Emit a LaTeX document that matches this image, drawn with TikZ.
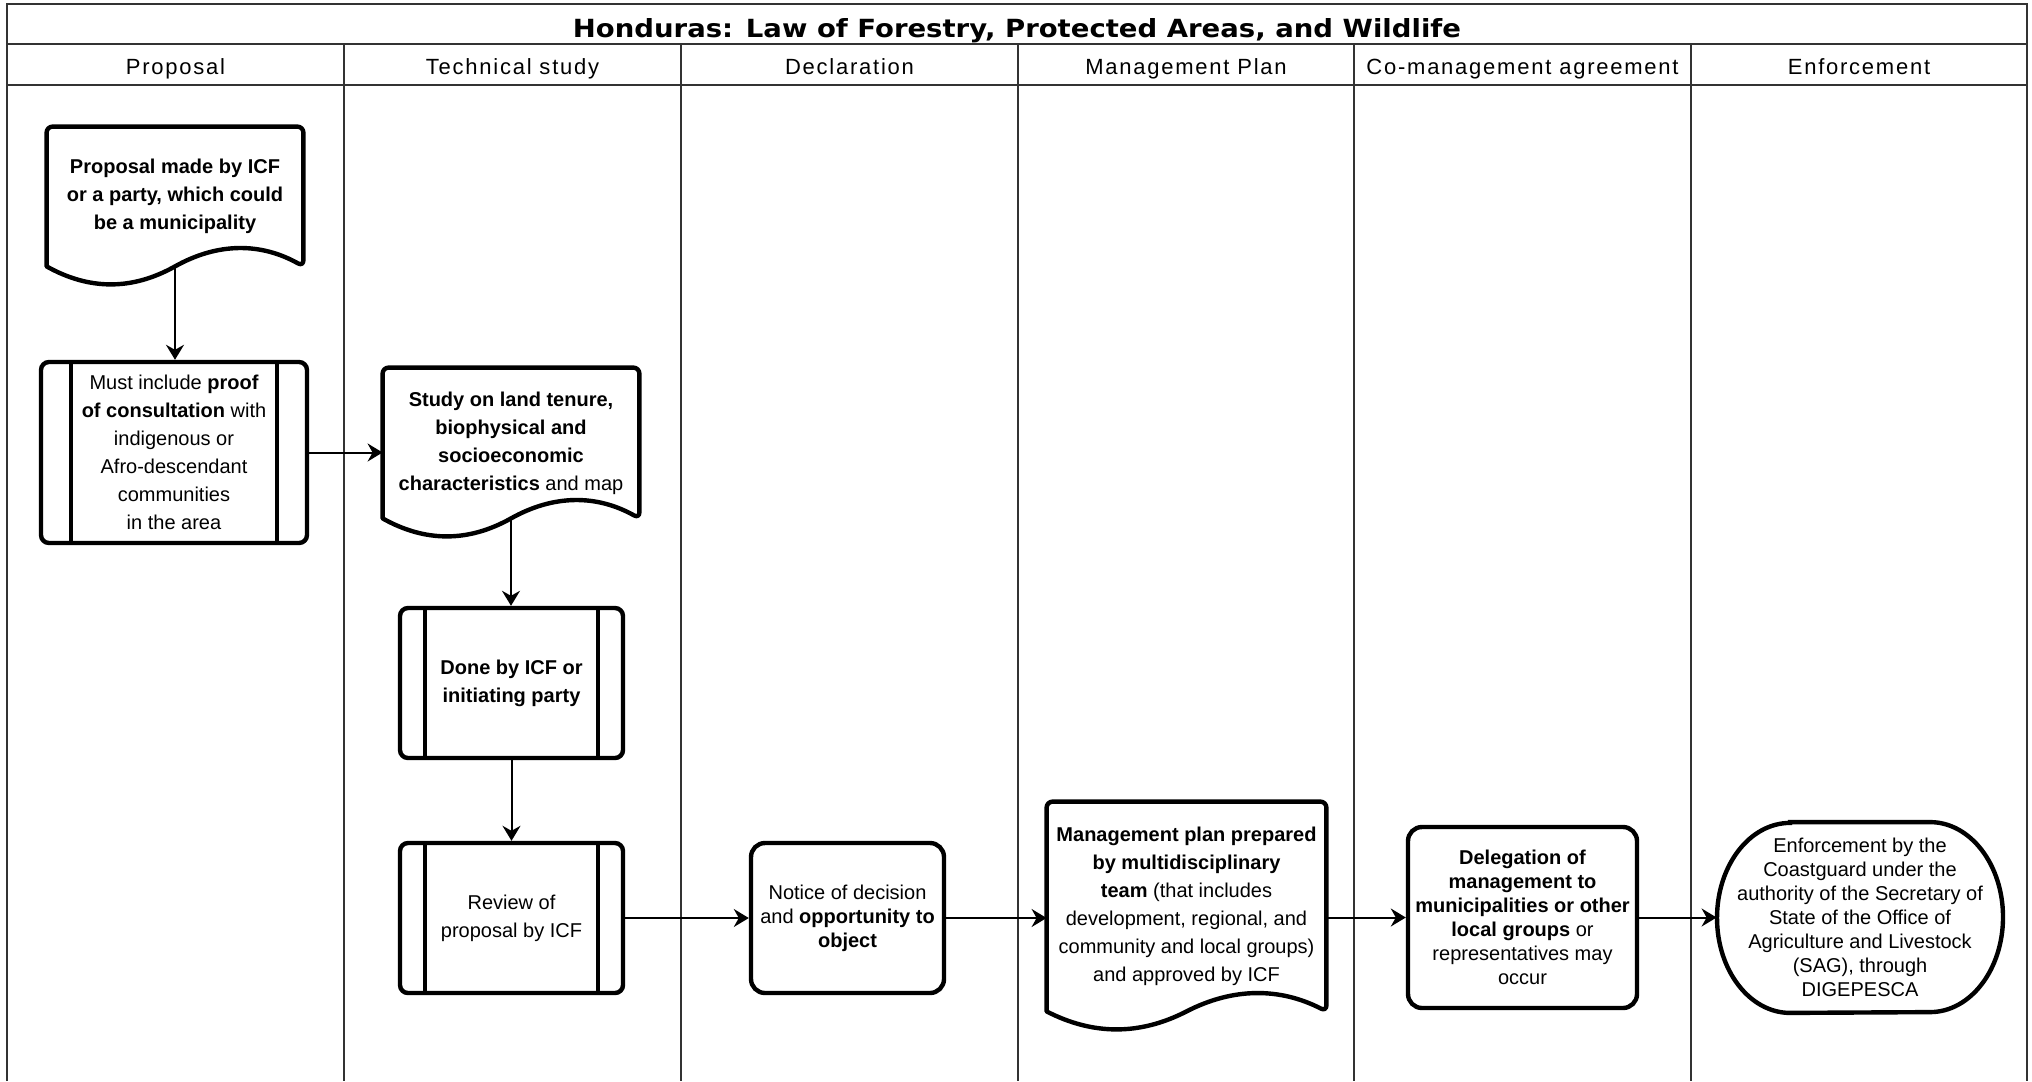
\documentclass[tikz,border=0pt]{standalone}
\usepackage{fontspec}
\setmainfont{Liberation Sans}
\newfontfamily\titlefont[FakeStretch=1.1]{DejaVu Sans}
\newfontfamily\headfont[LetterSpace=8]{Liberation Sans}
\usetikzlibrary{scopes,calc,arrows.meta}

% outline of a document shape: flat top, wavy bottom
\newcommand\docshape[1]{%
    \draw[line width=2.2pt,line join=round] (#1.south west) [rounded corners=3pt] -- (#1.north west) -- (#1.north east) -- (#1.south east) [sharp corners]
        .. controls ([yshift=12pt]$(#1.south west)!5/6!(#1.south east)$) and ([yshift=12pt]$(#1.south west)!2/3!(#1.south east)$) .. (#1.south)
        .. controls ([yshift=-12pt]$(#1.south west)!1/3!(#1.south east)$) and ([yshift=-12pt]$(#1.south west)!1/6!(#1.south east)$) .. (#1.south west) -- cycle;}

\begin{document}
\begin{tikzpicture}[
    x=0.5pt,y=-0.5pt,
    lane/.style={draw=black!80,line width=1pt},
    head/.style={anchor=base,font=\headfont\fontsize{11pt}{13pt}\selectfont},
    txt/.style={align=center,inner sep=0pt,font=\fontsize{10pt}{14pt}\selectfont},
    tight/.style={font=\fontsize{10pt}{12pt}\selectfont},
    doc/.style={txt,draw=none},
    proc/.style={txt,rectangle,rounded corners=4pt,draw=black,line width=2.2pt,
        path picture={\draw[line width=2pt]
            ($(path picture bounding box.north west)!0.112!(path picture bounding box.north east)$) -- ($(path picture bounding box.south west)!0.112!(path picture bounding box.south east)$)
            ($(path picture bounding box.north west)!0.888!(path picture bounding box.north east)$) -- ($(path picture bounding box.south west)!0.888!(path picture bounding box.south east)$);}},
    rbox/.style={txt,tight,rectangle,rounded corners=7pt,draw=black,line width=2.2pt},
    flow/.style={>={Stealth[length=7.5pt,width=9pt,inset=2.5pt]},draw=black,line width=1pt},
]
    \useasboundingbox (0,0) rectangle (2032,1081);

    % lanes
    \draw[lane] (7,1081) -- (7,4) -- (2027,4) -- (2027,1081);
    \draw[lane] (7,44) -- (2027,44);
    \draw[lane] (7,85) -- (2027,85);
    \foreach \x in {344,681,1018,1354,1691}
        \draw[lane] (\x,44) -- (\x,1081);

    \node[anchor=base,font=\titlefont\bfseries\fontsize{12.5pt}{15pt}\selectfont] (title) at (1017,38) {Honduras: Law of Forestry, Protected Areas, and Wildlife};
    \foreach \x/\n/\t in {175.5/hprop/Proposal,512.5/hstudy/Technical study,849.5/hdecl/Declaration,
        1186/hplan/Management Plan,1522.5/hcoman/Co-management agreement,1859/henf/Enforcement}
        \node[head] (\n) at (\x,75) {\t};

    % steps
    \node[doc,minimum width=128pt,minimum height=69.5pt] (prop) at (175,196.5)
        {\textbf{Proposal made by ICF}\\\textbf{or a party, which could}\\\textbf{be a municipality}};
    \docshape{prop}
    \node[proc,minimum width=133pt,minimum height=90.5pt] (must) at (174,452.5)
        {Must include \textbf{proof}\\\textbf{of consultation} with\\indigenous or\\Afro-descendant\\communities\\in the area};
    \node[doc,minimum width=128pt,minimum height=75pt] (study) at (511,443)
        {\textbf{Study on land tenure,}\\\textbf{biophysical and}\\\textbf{socioeconomic}\\\textbf{characteristics} and map};
    \docshape{study}
    \node[proc,minimum width=111.5pt,minimum height=75pt] (done) at (511.5,683)
        {\textbf{Done by ICF or}\\\textbf{initiating party}};
    \node[proc,minimum width=111.5pt,minimum height=75pt] (review) at (511.5,918)
        {Review of\\proposal by ICF};
    \node[rbox,minimum width=96.5pt,minimum height=75pt] (notice) at (847.5,918)
        {Notice of decision\\and \textbf{opportunity to}\\\textbf{object}};
    \node[doc,minimum width=139.5pt,minimum height=104.5pt] (mgmt) at (1186.5,906.5)
        {\textbf{Management plan prepared}\\\textbf{by multidisciplinary}\\\textbf{team} (that includes\\development, regional, and\\community and local groups)\\and approved by ICF};
    \docshape{mgmt}
    \node[rbox,minimum width=114.5pt,minimum height=90.5pt] (deleg) at (1522.5,917.5)
        {\textbf{Delegation of}\\\textbf{management to}\\\textbf{municipalities or other}\\\textbf{local groups} or\\representatives may\\occur};
    \node[txt,tight,minimum width=143pt,minimum height=95pt] (enf) at (1860,917.5)
        {Enforcement by the\\Coastguard under the\\authority of the Secretary of\\State of the Office of\\Agriculture and Livestock\\(SAG), through\\DIGEPESCA};
    \draw[line width=2.2pt] ([xshift=-35pt]enf.north) -- ([xshift=35pt]enf.north)
        arc[start angle=90,end angle=-90,x radius=36.5pt,y radius=47.5pt]
        -- ([xshift=-35pt]enf.south)
        arc[start angle=270,end angle=90,x radius=36.5pt,y radius=47.5pt] -- cycle;

    {[flow,->]
        \draw (prop.south) -- (prop.south |- must.north);
        \draw (must.east) -- (must.east -| study.west);
        \draw (study.south) -- (study.south |- done.north);
        \draw (done.south) -- (review.north);
        \draw (review.east) -- (notice.west);
        \draw (notice.east) -- (notice.east -| mgmt.west);
        \draw (mgmt.east |- deleg.west) -- (deleg.west);
        \draw (deleg.east) -- (enf.west);
    }
\end{tikzpicture}
\end{document}
